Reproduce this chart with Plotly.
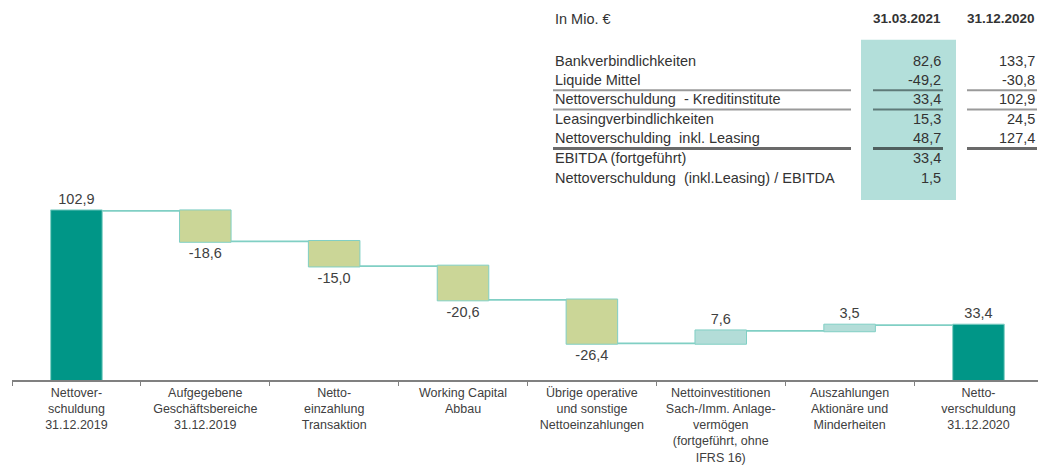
import plotly.graph_objects as go

# ---------------- data ----------------
categories = [
    "Nettover-<br>schuldung<br>31.12.2019",
    "Aufgegebene<br>Geschäftsbereiche<br>31.12.2019",
    "Netto-<br>einzahlung<br>Transaktion",
    "Working Capital<br>Abbau",
    "Übrige operative<br>und sonstige<br>Nettoeinzahlungen",
    "Nettoinvestitionen<br>Sach-/Imm. Anlage-<br>vermögen<br>(fortgeführt, ohne<br>IFRS 16)",
    "Auszahlungen<br>Aktionäre und<br>Minderheiten",
    "Netto-<br>verschuldung<br>31.12.2020",
]
measures = ["absolute", "relative", "relative", "relative", "relative", "relative", "relative", "total"]
values = [102.9, -18.6, -15.0, -20.6, -26.4, 7.6, 3.5, 33.4]

table_header = ["In Mio. €", "31.03.2021", "31.12.2020"]
table_labels = [
    "Bankverbindlichkeiten",
    "Liquide Mittel",
    "Nettoverschuldung  - Kreditinstitute",
    "Leasingverbindlichkeiten",
    "Nettoverschulding  inkl. Leasing",
    "EBITDA (fortgeführt)",
    "Nettoverschuldung  (inkl.Leasing) / EBITDA",
]
table_col1 = ["82,6", "-49,2", "33,4", "15,3", "48,7", "33,4", "1,5"]
table_col2 = ["133,7", "-30,8", "102,9", "24,5", "127,4", "", ""]

# ---------------- layout helpers ----------------
W, H = 1038, 465
ML, MR, MT, MB = 12, 0, 10, 81
PW, PH = W - ML - MR, H - MT - MB


def px(xp):  # picture x pixel -> paper coordinate
    return (xp - ML) / PW


def py(yp):  # picture y pixel -> paper coordinate
    return (H - MB - yp) / PH


TOTAL = "#009687"
DEC = "#cbd697"
INC = "#b3ddd8"
CONN = "#80cfc4"
TXT = "#404040"
FONT = "Arial, Liberation Sans, sans-serif"

texts = [f"{v:.1f}".replace(".", ",") for v in values]

fig = go.Figure(
    go.Waterfall(
        x=categories,
        y=values,
        measure=measures,
        text=texts,
        textposition="outside",
        textfont=dict(size=14.5, color=TXT, family=FONT),
        width=[0.4] * len(values),
        connector=dict(mode="between", line=dict(color=CONN, width=1.8)),
        totals=dict(marker=dict(color=TOTAL, line=dict(color=CONN, width=1))),
        decreasing=dict(marker=dict(color=DEC, line=dict(color=CONN, width=1))),
        increasing=dict(marker=dict(color=INC, line=dict(color=CONN, width=1))),
        cliponaxis=False,
        hoverinfo="skip",
    )
)

# ---------------- table ----------------
ann = []
shapes = []
shapes.append(dict(type="rect", xref="paper", yref="paper", x0=px(861), x1=px(956),
                   y0=py(202), y1=py(40), fillcolor="#b3dfda", line=dict(width=0), layer="below"))

ann.append(dict(text=table_header[0], x=px(553), y=py(19), xanchor="left", yanchor="middle", sz=14.5))
ann.append(dict(text="<b>" + table_header[1] + "</b>", x=px(943), y=py(19), xanchor="right", yanchor="middle", sz=13.5))
ann.append(dict(text="<b>" + table_header[2] + "</b>", x=px(1037), y=py(19), xanchor="right", yanchor="middle", sz=13.5))

row_y = [62, 81, 100, 120, 139, 160, 180]
for lab, c1, c2, yy in zip(table_labels, table_col1, table_col2, row_y):
    ann.append(dict(text=lab, x=px(553), y=py(yy), xanchor="left", yanchor="middle", sz=14.5))
    ann.append(dict(text=c1, x=px(943), y=py(yy), xanchor="right", yanchor="middle", sz=14.5))
    if c2:
        ann.append(dict(text=c2, x=px(1037), y=py(yy), xanchor="right", yanchor="middle", sz=14.5))

for a in ann:
    sz = a.pop("sz")
    a.update(xref="paper", yref="paper", showarrow=False,
             font=dict(size=sz, color="#333333", family=FONT))

segs = [(553, 851), (873, 943), (967, 1037)]
for yy, col, wd in [(91, "#9a9a9a", 2), (110.5, "#9a9a9a", 2), (150, "#6a6a6a", 3)]:
    for i, (a0, a1) in enumerate(segs):
        c = col
        if i == 1:
            c = "#5f7a78" if yy != 150 else "#4f5f5e"
        shapes.append(dict(type="line", xref="paper", yref="paper", x0=px(a0), x1=px(a1),
                           y0=py(yy), y1=py(yy), line=dict(color=c, width=wd)))

fig.update_layout(
    width=W, height=H,
    margin=dict(l=ML, r=MR, t=MT, b=MB),
    paper_bgcolor="white", plot_bgcolor="white",
    showlegend=False,
    font=dict(family=FONT, color=TXT),
    annotations=ann,
    shapes=shapes,
    xaxis=dict(
        type="category",
        range=[-0.5, 7.462],
        showline=True, linecolor="#808080", linewidth=1.5,
        ticks="outside", ticklen=4, tickcolor="#808080", tickson="boundaries",
        tickfont=dict(size=12.5, color=TXT, family=FONT),
        showgrid=False, zeroline=False, fixedrange=True,
    ),
    yaxis=dict(range=[0, PH / 1.662], visible=False, showgrid=False, zeroline=False, fixedrange=True),
)

fig.write_html(
    "out.html",
    config={"displayModeBar": False, "staticPlot": True},
    post_script="document.body.style.margin='0px';document.body.style.overflow='hidden';",
)
